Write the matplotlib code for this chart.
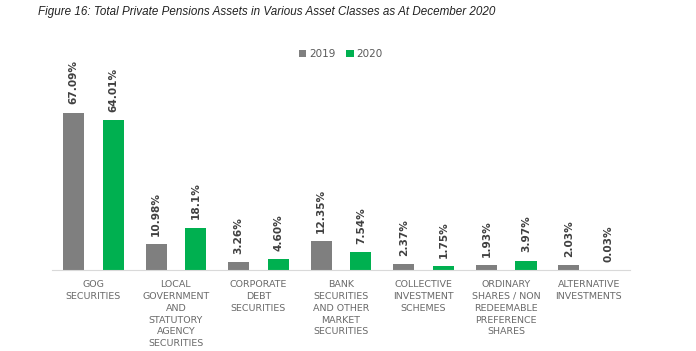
import numpy as np
import matplotlib
matplotlib.use("Agg")
import matplotlib.pyplot as plt

categories = ["GOG\nSECURITIES",
              "LOCAL\nGOVERNMENT\nAND\nSTATUTORY\nAGENCY\nSECURITIES",
              "CORPORATE\nDEBT\nSECURITIES",
              "BANK\nSECURITIES\nAND OTHER\nMARKET\nSECURITIES",
              "COLLECTIVE\nINVESTMENT\nSCHEMES",
              "ORDINARY\nSHARES / NON\nREDEEMABLE\nPREFERENCE\nSHARES",
              "ALTERNATIVE\nINVESTMENTS"]
vals_2019 = [67.09, 10.98, 3.26, 12.35, 2.37, 1.93, 2.03]
vals_2020 = [64.01, 18.1, 4.60, 7.54, 1.75, 3.97, 0.03]
labels_2019 = ["67.09%", "10.98%", "3.26%", "12.35%", "2.37%", "1.93%", "2.03%"]
labels_2020 = ["64.01%", "18.1%", "4.60%", "7.54%", "1.75%", "3.97%", "0.03%"]

gray = "#7f7f7f"
green = "#00b050"

fig = plt.figure(figsize=(6.96, 3.51), dpi=100)
ax = fig.add_axes([0.0747, 0.2308, 0.8305, 0.598])

x = np.arange(len(categories))
w = 0.255
off = 0.24
b1 = ax.bar(x - off, vals_2019, w, color=gray, label="2019")
b2 = ax.bar(x + off, vals_2020, w, color=green, label="2020")

for bars, labs in ((b1, labels_2019), (b2, labels_2020)):
    for bar, lab in zip(bars, labs):
        ax.annotate(lab, (bar.get_x() + bar.get_width() / 2, bar.get_height()),
                    xytext=(0, 6), textcoords="offset points",
                    rotation=90, ha="center", va="bottom",
                    fontsize=7.6, fontweight="bold", color="#404040")

ax.set_xlim(-0.5, len(categories) - 0.5)
ax.set_ylim(0, 89.5)
ax.set_xticks(x)
ax.set_xticklabels(categories, fontsize=6.8, color="#6a6a6a", linespacing=1.42)
ax.tick_params(axis="x", length=0, pad=7)
ax.set_yticks([])
for s in ("left", "right", "top"):
    ax.spines[s].set_visible(False)
ax.spines["bottom"].set_color("#d9d9d9")

fig.legend(loc="center", bbox_to_anchor=(0.49, 0.846), ncol=2, frameon=False,
           fontsize=7.5, handlelength=0.7, handleheight=0.7, handletextpad=0.3,
           columnspacing=1.0, labelcolor="#595959")

fig.text(0.055, 0.965, "Figure 16: Total Private Pensions Assets in Various Asset Classes as At December 2020",
         family=["Liberation Sans", "DejaVu Sans"], style="italic",
         fontsize=8.4, color="#222222", va="center", ha="left")

fig.savefig("out.png", dpi=100)
